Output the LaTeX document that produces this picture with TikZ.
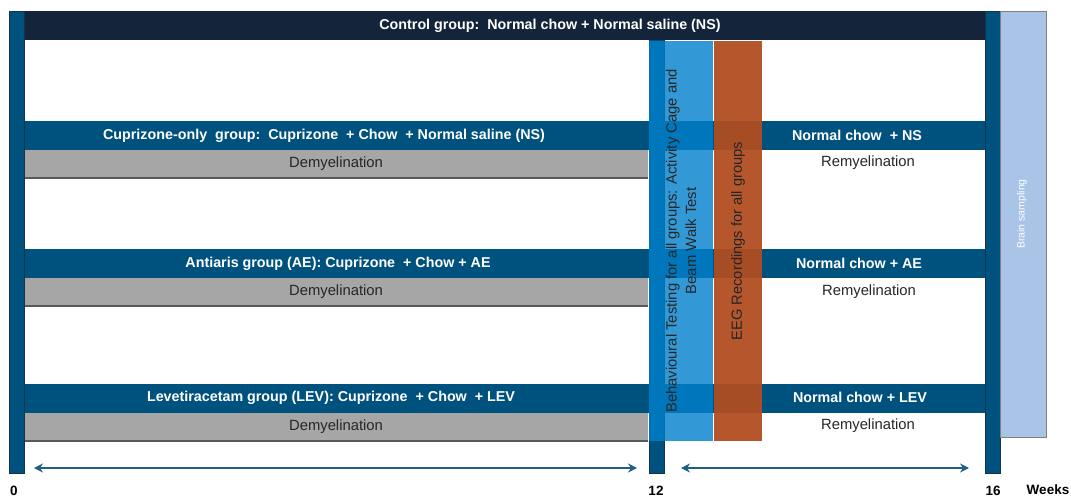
\documentclass[tikz,border=0pt]{standalone}
\usepackage{fontspec}
\setmainfont{Liberation Sans}
\usetikzlibrary{arrows.meta, positioning}

\definecolor{ctrlnavy}{HTML}{13243B}
\definecolor{groupblue}{HTML}{00527E}
\definecolor{barline}{HTML}{17324C}
\definecolor{demgrey}{HTML}{A6A6A6}
\definecolor{demline}{HTML}{595959}
\definecolor{behavblue}{RGB}{0,128,204}
\definecolor{eegorange}{RGB}{177,77,33}
\definecolor{brainblue}{HTML}{A9C4E6}
\definecolor{brainline}{HTML}{7F7F7F}
\definecolor{arrowblue}{HTML}{1F5F86}
\definecolor{labeltext}{HTML}{262626}

\begin{document}
\begin{tikzpicture}[x=1pt, y=-1pt, node distance=0pt]
\tikzstyle{groupbar} = [rectangle, anchor=north west, inner sep=0pt, outer sep=0pt, minimum width=961pt, minimum height=29pt, fill=groupblue]
\tikzstyle{grouptext} = [text=white, font=\fontsize{14.3}{16}\selectfont\bfseries, inner sep=0pt]
\tikzstyle{dembar} = [rectangle, inner sep=0pt, outer sep=0pt, minimum width=624pt, minimum height=28pt, fill=demgrey, text=labeltext, font=\fontsize{14.8}{16}\selectfont]
\tikzstyle{remtext} = [text=labeltext, font=\fontsize{14.8}{16}\selectfont, inner sep=0pt]
\tikzstyle{weekbar} = [rectangle, anchor=north west, inner sep=0pt, outer sep=0pt, minimum width=15pt, minimum height=462pt, fill=groupblue, draw=barline, line width=0.8pt]
\tikzstyle{behavbox} = [rectangle, rotate=90, inner sep=0pt, minimum width=400pt, minimum height=64pt, fill=behavblue, fill opacity=0.8, text opacity=1, text=labeltext, align=center, font=\fontsize{14.8}{19.5}\selectfont]
\tikzstyle{eegbox} = [rectangle, rotate=90, inner sep=0pt, minimum width=400pt, minimum height=48pt, fill=eegorange, fill opacity=0.95, text opacity=1, text=labeltext, font=\fontsize{14.7}{16}\selectfont]
\tikzstyle{weeklabel} = [inner sep=0pt, font=\fontsize{13.5}{15}\selectfont\bfseries]
\tikzstyle{arrow} = [line width=1.3pt, {Stealth[length=9pt,width=9pt]}-{Stealth[length=9pt,width=9pt]}, draw=arrowblue, fill=arrowblue]

\useasboundingbox (0,0) rectangle (1071,498);

% week 12 bar sits under everything else
\node (wk12) [weekbar] at (649,11) {};

% control group
\node (ctrl) [groupbar, fill=ctrlnavy] at (24,11) {};
\node (ctrltext) [grouptext] at (550,26) {Control group:\ \ Normal chow + Normal saline (NS)};

% cuprizone-only group
\node (cup) [groupbar] at (24,121) {};
\node (cuptext) [grouptext] at (324,135.5) {Cuprizone-only\ \ group:\ \ Cuprizone\ \ + Chow\ \ + Normal saline (NS)};
\node (cupdem) [dembar, below right=0pt and 0pt of cup.south west] {Demyelination};
\draw [demline, line width=1.2pt] (cupdem.south west) -- (cupdem.south east);
\node (cupright) [grouptext] at (857,135.5) {Normal chow\ \ + NS};
\node (cuprem) [remtext] at (868,163) {Remyelination};

% antiaris group
\node (ae) [groupbar] at (24,249) {};
\node (aetext) [grouptext] at (338,263.5) {Antiaris group (AE): Cuprizone\ \ + Chow + AE};
\node (aedem) [dembar, below right=0pt and 0pt of ae.south west] {Demyelination};
\draw [demline, line width=1.2pt] (aedem.south west) -- (aedem.south east);
\node (aeright) [grouptext] at (859,263.5) {Normal chow + AE};
\node (aerem) [remtext] at (869,292) {Remyelination};

% levetiracetam group
\node (lev) [groupbar] at (24,384) {};
\node (levtext) [grouptext] at (331,397.5) {Levetiracetam group (LEV): Cuprizone\ \ + Chow\ \ + LEV};
\node (levdem) [dembar, below right=0pt and 0pt of lev.south west] {Demyelination};
\draw [demline, line width=1.2pt] (levdem.south west) -- (levdem.south east);
\node (levright) [grouptext] at (860,397.5) {Normal chow + LEV};
\node (levrem) [remtext] at (868,426) {Remyelination};

% tests for all groups
\node (behav) [behavbox] at (681,241) {Behavioural Testing for all groups: Activity Cage and\\Beam Walk Test};
\node (eeg) [eegbox] at (738,241) {EEG Recordings for all groups};

% week 0 and week 16 bars
\node (wk0) [weekbar] at (9,11) {};
\node (wk16) [weekbar] at (985,11) {};
\node (brain) [rectangle, anchor=north west, inner sep=0pt, minimum width=46pt, minimum height=426pt, fill=brainblue, draw=brainline, line width=0.6pt] at (1000,11) {};
\node (braintext) [rotate=90, inner sep=0pt, text=white, font=\fontsize{10.5}{12}\selectfont] at (1022,214) {Brain sampling};

% time axis
\coordinate (demstart) at (34,468);
\coordinate (demend) at (637,468);
\coordinate (remstart) at (681,468);
\coordinate (remend) at (969,468);
\draw [arrow] (demstart) -- (demend);
\draw [arrow] (remstart) -- (remend);

\node (w0) [weeklabel] at (14,491) {0};
\node (w12) [weeklabel] at (656,491) {12};
\node (w16) [weeklabel] at (993,491) {16};
\node (weeks) [weeklabel] at (1048,490) {Weeks};

\end{tikzpicture}
\end{document}
